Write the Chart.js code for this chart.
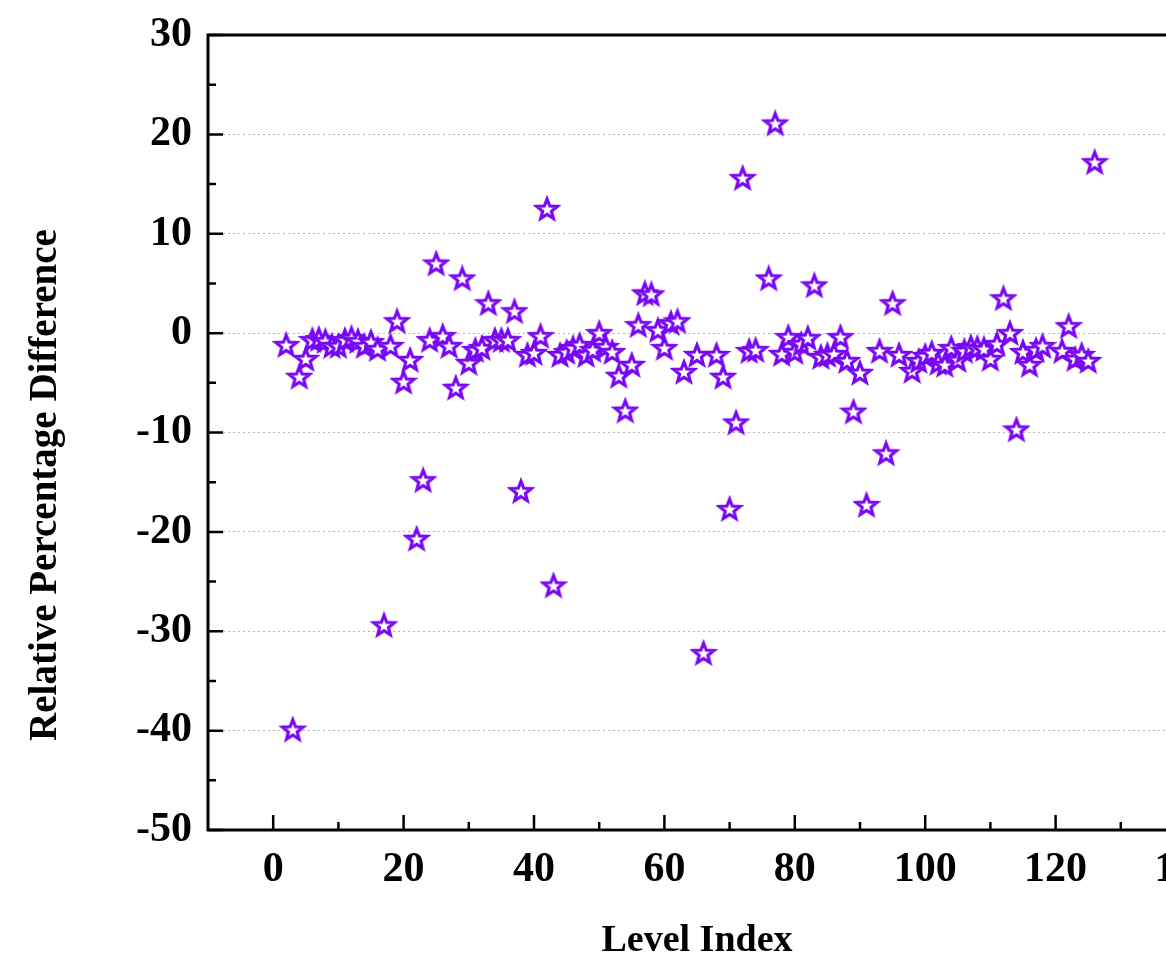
<!DOCTYPE html>
<html>
<head>
<meta charset="utf-8">
<script src="https://cdn.jsdelivr.net/npm/chart.js@4.4.0/dist/chart.umd.min.js"></script>
<style>
html, body { margin: 0; padding: 0; background: #fff; overflow: hidden; width: 1166px; height: 964px; }
canvas { display: block; }
</style>
</head>
<body>
<canvas id="chart" width="1240" height="964" style="width:1240px;height:964px"></canvas>
<script>
// level index (x) and relative percentage difference (y)
const levelIndex = [
    2, 3, 4, 5, 6, 7, 8, 9, 10, 11, 12, 13, 14, 15, 16, 17, 18, 19, 20, 21,
    22, 23, 24, 25, 26, 27, 28, 29, 30, 31, 32, 33, 34, 35, 36, 37, 38, 39, 40, 41,
    42, 43, 44, 45, 46, 47, 48, 49, 50, 51, 52, 53, 54, 55, 56, 57, 58, 59, 60, 61,
    62, 63, 65, 66, 68, 69, 70, 71, 72, 73, 74, 76, 77, 78, 79, 80, 81, 82, 83, 84,
    85, 86, 87, 88, 89, 90, 91, 93, 94, 95, 96, 98, 99, 100, 101, 102, 103, 104, 105, 106,
    107, 108, 109, 110, 111, 112, 113, 114, 115, 116, 117, 118, 121, 122, 123, 124, 125, 126
];
const relDiff = [
    -1.2, -39.9, -4.4, -2.6, -0.7, -0.6, -0.8, -1.3, -1.3, -0.7, -0.5, -0.8, -1.3, -0.9, -1.6, -29.4, -1.3, 1.2, -4.9, -2.7,
    -20.7, -14.8, -0.7, 7.0, -0.3, -1.3, -5.5, 5.5, -3.0, -1.7, -1.5, 3.0, -0.7, -0.7, -0.7, 2.2, -15.9, -2.2, -2.0, -0.3,
    12.5, -25.4, -2.2, -1.9, -1.5, -1.2, -2.2, -1.7, 0.0, -1.4, -1.9, -4.3, -7.8, -3.2, 0.8, 4.0, 3.9, 0.3, -1.5, 1.0,
    1.2, -3.9, -2.2, -32.2, -2.2, -4.4, -17.7, -9.0, 15.6, -1.8, -1.7, 5.5, 21.1, -2.1, -0.4, -1.9, -1.1, -0.5, 4.8, -2.4,
    -2.2, -2.1, -0.4, -2.8, -7.9, -4.0, -17.3, -1.8, -12.1, 3.0, -2.2, -3.8, -2.8, -2.3, -2.0, -3.0, -3.2, -1.5, -2.7, -1.8,
    -1.4, -1.5, -1.6, -2.6, -1.1, 3.5, 0.0, -9.7, -1.9, -3.2, -1.7, -1.3, -1.8, 0.7, -2.6, -2.2, -2.8, 17.2
];

const xRange = [-10, 140];
const yRange = [-50, 30];
const xTitle = "Level Index";
const yTitle = "Relative Percentage Difference";

const FONT = "'Liberation Serif', 'Times New Roman', serif";
const PURPLE = "#7806f5";

// five-pointed hollow star used as the marker
function starMarker() {
    const c = document.createElement("canvas");
    c.width = 28;
    c.height = 28;
    const g = c.getContext("2d");
    const R = 10.8, r = 4.6;
    g.beginPath();
    for (let i = 0; i < 10; i++) {
        const a = -Math.PI / 2 + i * Math.PI / 5;
        const rad = i % 2 === 0 ? R : r;
        const px = 14 + rad * Math.cos(a), py = 14.8 + rad * Math.sin(a);
        if (i === 0) g.moveTo(px, py); else g.lineTo(px, py);
    }
    g.closePath();
    g.fillStyle = "#fff";
    g.fill();
    g.lineWidth = 3.1;
    g.lineJoin = "miter";
    g.strokeStyle = PURPLE;
    g.stroke();
    return c;
}

// box frame + inward major/minor ticks, and the rotated y title
const framePlugin = {
    id: "frame",
    beforeDatasetsDraw(chart) {
        const { ctx, chartArea: a, scales } = chart;
        const xs = scales.x, ys = scales.y;
        ctx.save();
        ctx.strokeStyle = "#000";
        ctx.lineWidth = 3;
        ctx.beginPath();
        ctx.moveTo(a.left, a.top);
        ctx.lineTo(a.right, a.top);
        ctx.moveTo(a.left, a.top - 1.5);
        ctx.lineTo(a.left, a.bottom + 1.5);
        ctx.moveTo(a.left, a.bottom);
        ctx.lineTo(a.right, a.bottom);
        ctx.moveTo(a.right, a.top);
        ctx.lineTo(a.right, a.bottom);
        ctx.stroke();

        ctx.lineWidth = 2.5;
        ctx.beginPath();
        ys.ticks.forEach((t) => {
            const y = ys.getPixelForValue(t.value);
            ctx.moveTo(a.left, y);
            ctx.lineTo(a.left + 15, y);
            const m = t.value + 5;
            if (m < yRange[1]) {
                const ym = ys.getPixelForValue(m);
                ctx.moveTo(a.left, ym);
                ctx.lineTo(a.left + 8, ym);
            }
        });
        xs.ticks.forEach((t) => {
            const x = xs.getPixelForValue(t.value);
            ctx.moveTo(x, a.bottom);
            ctx.lineTo(x, a.bottom - 15);
            const m = t.value + 10;
            if (m < xRange[1]) {
                const xm = xs.getPixelForValue(m);
                ctx.moveTo(xm, a.bottom);
                ctx.lineTo(xm, a.bottom - 8);
            }
        });
        ctx.stroke();

        ctx.translate(46, 485);
        ctx.rotate(-Math.PI / 2);
        ctx.fillStyle = "#000";
        ctx.font = "bold 39px " + FONT;
        ctx.textAlign = "center";
        ctx.textBaseline = "middle";
        ctx.fillText(yTitle, 0, 0);
        ctx.restore();
    },
};

const points = levelIndex.map((x, i) => ({ x, y: relDiff[i] }));

new Chart(document.getElementById("chart"), {
    type: "scatter",
    data: {
        datasets: [{
            data: points,
            pointStyle: starMarker(),
            pointRadius: 10,
            borderColor: PURPLE,
            backgroundColor: "#fff",
        }],
    },
    options: {
        responsive: false,
        animation: false,
        layout: { padding: { top: 35, right: 54, bottom: 0, left: 0 } },
        plugins: { legend: { display: false }, tooltip: { enabled: false } },
        scales: {
            x: {
                type: "linear",
                min: xRange[0],
                max: xRange[1],
                ticks: {
                    stepSize: 20,
                    includeBounds: false,
                    color: "#000",
                    padding: 15,
                    maxRotation: 0,
                    autoSkip: false,
                    font: { family: FONT, size: 42, weight: "bold" },
                },
                grid: { display: false, drawTicks: false },
                border: { display: false },
                title: {
                    display: true,
                    text: xTitle,
                    color: "#000",
                    padding: { top: 0, bottom: 0 },
                    font: { family: FONT, size: 38, weight: "bold" },
                },
                afterFit: (s) => { s.height = 134; },
            },
            y: {
                type: "linear",
                min: yRange[0],
                max: yRange[1],
                ticks: {
                    stepSize: 10,
                    color: "#000",
                    padding: 16,
                    font: { family: FONT, size: 42, weight: "bold" },
                },
                grid: { color: "#b4b4b4", lineWidth: 1, drawTicks: false },
                border: { display: false, dash: [2, 3] },
                afterFit: (s) => {
                    s.width = 208;
                    s.paddingTop = 0;
                    s.paddingBottom = 0;
                },
            },
        },
    },
    plugins: [framePlugin],
});
</script>
</body>
</html>
